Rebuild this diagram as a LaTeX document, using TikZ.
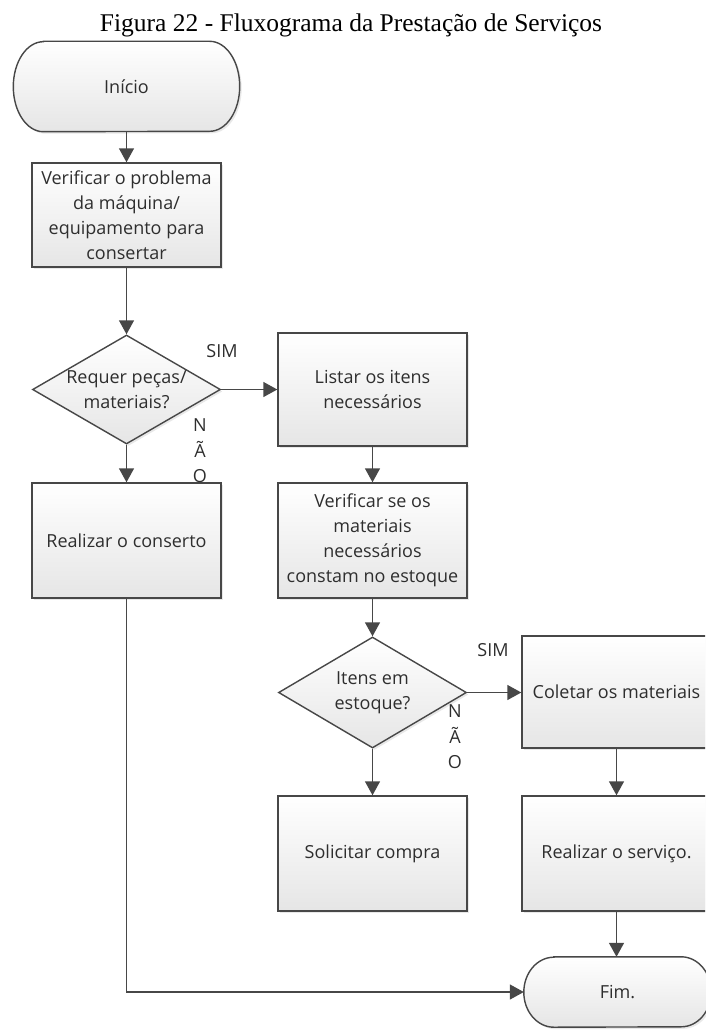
\documentclass[tikz,border=0pt]{standalone}
\usepackage{fontspec}
\setmainfont{Liberation Serif}
\newfontfamily\boxfont{Open Sans}
\usetikzlibrary{shapes.geometric, arrows.meta, shadows, backgrounds}
\definecolor{lc}{HTML}{474747}
\definecolor{tc}{HTML}{2E2E2E}
\tikzset{
  x=1pt, y=1pt,
  fillstyle/.style={top color=white, bottom color=black!10},
  shadowstyle/.style={drop shadow={opacity=0.18, shadow xshift=2pt, shadow yshift=-2pt}},
  box/.style={draw=lc, line width=1.4pt, fillstyle, shadowstyle, minimum width=189pt,
    inner sep=1pt, align=center, text=tc, font=\boxfont\fontsize{18}{25}\selectfont},
  dia/.style={diamond, draw=lc, line width=1.4pt, fillstyle, shadowstyle,
    minimum width=188pt, inner sep=0pt},
  diatext/.style={align=center, text=tc, inner sep=0pt, font=\boxfont\fontsize{18}{25}\selectfont},
  term/.style={draw=none, minimum width=#1, inner sep=0pt, text=tc, font=\boxfont\fontsize{18}{25}\selectfont},
  termshape/.style={draw=lc, line width=1.4pt, fillstyle, shadowstyle},
  arr/.style={draw=lc, line width=1.4pt, -{Triangle[length=14pt,width=15pt]}},
  lbl/.style={align=center, text=tc, inner sep=0pt, font=\boxfont\fontsize{18}{25.5}\selectfont},
  ttl/.style={inner sep=0pt, font=\fontsize{25.5}{28}\selectfont}
}
\begin{document}
\begin{tikzpicture}
\clip (0,0) rectangle (705,-1030);

\node[ttl, anchor=base] (title) at (351,-32) {Figura 22 - Fluxograma da Prestação de Serviços};

% terminals
\node[term=226pt, minimum height=90pt] (start) at (126.5,-86.5) {Início};
\node[term=187pt, minimum height=70pt] (fim) at (617.5,-992) {Fim.};
\begin{scope}[on background layer]
\path[termshape] ([xshift=30pt]start.north west) -- ([xshift=-30pt]start.north east)
  arc[start angle=90, end angle=-90, x radius=30pt, y radius=45pt]
  -- ([xshift=30pt]start.south west)
  arc[start angle=270, end angle=90, x radius=30pt, y radius=45pt] -- cycle;
\path[termshape] ([xshift=30pt]fim.north west) -- ([xshift=-30pt]fim.north east)
  arc[start angle=90, end angle=-90, x radius=30pt, y radius=35pt]
  -- ([xshift=30pt]fim.south west)
  arc[start angle=270, end angle=90, x radius=30pt, y radius=35pt] -- cycle;
\end{scope}

% process boxes
\node[box, minimum height=104pt] (v1) at (126.5,-215) {Verificar o problema\\da máquina/\\equipamento para\\consertar};
\node[box, minimum height=113pt] (list) at (372.5,-389.5) {Listar os itens\\necessários};
\node[box, minimum height=115pt] (cons) at (126.5,-540.5) {Realizar o conserto};
\node[box, minimum height=115pt] (vse) at (372.5,-540.5) {Verificar se os\\materiais\\necessários\\constam no estoque};
\node[box, minimum height=112pt] (colet) at (616.5,-692) {Coletar os materiais};
\node[box, minimum height=115pt] (solic) at (372.5,-853.5) {Solicitar compra};
\node[box, minimum height=115pt] (serv) at (616.5,-853.5) {Realizar o serviço.};

% decisions
\node[dia, minimum height=109pt] (d1) at (126.5,-389.5) {};
\node[diatext] (d1t) at (126.5,-389.5) {Requer peças/\\materiais?};
\node[dia, minimum height=111pt] (d2) at (372.5,-692.5) {};
\node[diatext] (d2t) at (372.5,-692.5) {Itens em\\estoque?};

% labels
\node[lbl] (sim1) at (222,-351) {SIM};
\node[lbl] (nao1) at (200,-451) {N\\Ã\\O};
\node[lbl] (sim2) at (493,-650) {SIM};
\node[lbl] (nao2) at (455,-737) {N\\Ã\\O};

% connectors
\draw[arr] (start.south) -- (v1.north);
\draw[arr] (v1.south) -- (d1.north);
\draw[arr] (d1.east) -- (d1.east -| list.west);
\draw[arr] (d1.south) -- (cons.north);
\draw[arr] (list.south) -- (vse.north);
\draw[arr] (vse.south) -- (d2.north);
\draw[arr] (d2.east) -- (d2.east -| colet.west);
\draw[arr] (d2.south) -- (solic.north);
\draw[arr] (colet.south) -- (serv.north);
\draw[arr] (serv.south) -- (serv.south |- fim.north);
\draw[arr] (cons.south) |- (fim.west);
\end{tikzpicture}
\end{document}
